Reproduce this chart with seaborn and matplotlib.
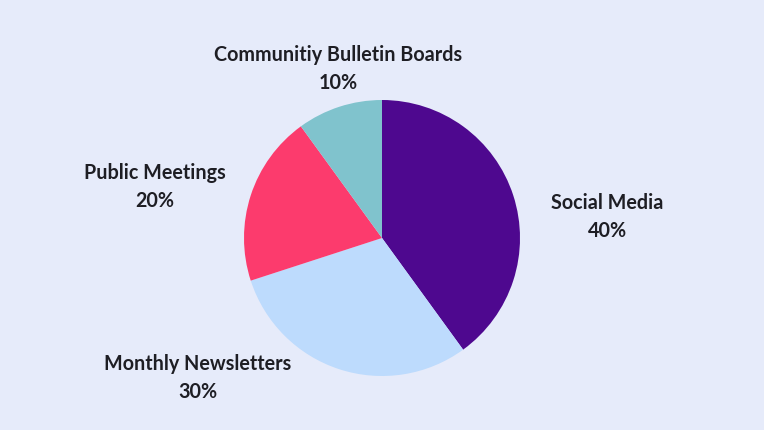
import matplotlib
matplotlib.use("Agg")
import matplotlib.pyplot as plt
import seaborn as sns
import numpy as np

categories = ["Social Media", "Monthly Newsletters", "Public Meetings", "Communitiy Bulletin Boards"]
values = [40, 30, 20, 10]
colors = ["#4E088F", "#BDDBFD", "#FC3B6D", "#80C3CD"]
# label anchor offsets (in pie-radius units) as seen in the reference
label_pos = [(1.635, 0.16), (-1.335, -1.01), (-1.645, 0.38), (-0.32, 1.235)]

sns.set_theme(style="white")
plt.rcParams['font.family'] = ['Lato', 'DejaVu Sans']
bg = "#E6EBFA"

fig = plt.figure(figsize=(7.64, 4.31), dpi=100, facecolor=bg)
ax = fig.add_axes([0, 0, 1, 1])
ax.set_facecolor(bg)
pal = sns.color_palette(colors)
ax.pie(values, colors=pal, startangle=90, counterclock=False, radius=1,
       wedgeprops=dict(linewidth=0))
for cat, v, (x, y) in zip(categories, values, label_pos):
    ax.text(x, y, f"{cat}\n{v}%", ha="center", va="center", fontsize=14.2,
            fontweight="bold", color="#1E1E24", linespacing=1.5)
R = 138.0
ax.set_xlim(-382 / R, 382 / R)
ax.set_ylim(-192 / R, 239 / R)
ax.set_aspect("equal")
ax.axis("off")
fig.savefig("out.png", dpi=100, facecolor=bg)
